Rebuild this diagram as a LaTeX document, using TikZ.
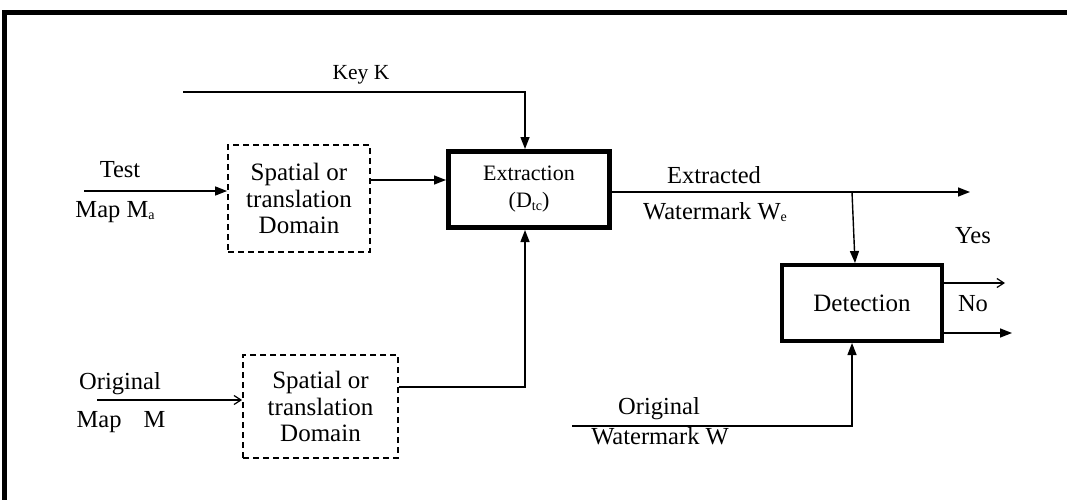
\documentclass[tikz,border=0pt]{standalone}
\usepackage{fontspec}
\setmainfont{Liberation Serif}
\usetikzlibrary{arrows.meta}

% small subscript used in the labels
\newcommand{\lowsub}[1]{\raisebox{-0.1em}{\fontsize{14}{15}\selectfont #1}}

\tikzset{
  lbl/.style={inner sep=0pt, font=\fontsize{24.5}{28}\selectfont},
  dombox/.style={draw, dash pattern=on 6pt off 4pt, line width=1.8pt, align=center,
    inner sep=0pt, font=\fontsize{25}{26.5}\selectfont},
  procbox/.style={draw, line width=5pt, align=center, inner sep=0pt},
  link/.style={line width=1.4pt},
  arr/.style={link, -{Triangle[length=12pt,width=9pt]}},
  thinarr/.style={link, -{Straight Barb[length=7pt,width=9pt,line width=1.2pt]}},
}

\begin{document}
\begin{tikzpicture}[x=1pt,y=-1pt]
\useasboundingbox (0,0) rectangle (1067,500);

% page frame (top and left rules)
\draw[line width=4.5pt, line join=miter] (4.7,500) -- (4.7,12.5) -- (1067,12.5);

% blocks
\node[dombox, minimum width=142pt, minimum height=107pt] (dom1) at (299,198.5)
  {Spatial or\\translation\\Domain};
\node[dombox, minimum width=155pt, minimum height=103pt] (dom2) at (320.5,406.5)
  {Spatial or\\translation\\Domain};
\node[procbox, minimum width=161pt, minimum height=76pt,
  font=\fontsize{22}{27}\selectfont] (ext) at (529,189.5)
  {Extraction\\(D\lowsub{tc})};
\node[procbox, line width=4pt, minimum width=160pt, minimum height=76pt,
  font=\fontsize{25}{27}\selectfont] (det) at (862,303) {Detection};

% labels
\node[lbl, font=\fontsize{21.5}{24}\selectfont] (keyl) at (361,75) {Key K};
\node[lbl] (testl) at (120,170) {Test};
\node[lbl] (mapal) at (115,212) {Map M\lowsub{a}};
\node[lbl] (origl) at (120,384) {Original};
\node[lbl] (mapl) at (121,422) {Map\hspace{0.9em}M};
\node[lbl] (extrl) at (714,175) {Extracted};
\node[lbl] (wmel) at (715,212) {Watermark W\lowsub{e}};
\node[lbl] (yesl) at (973,236) {Yes};
\node[lbl] (nol) at (973,304) {No};
\node[lbl] (origwl) at (659,409) {Original};
\node[lbl] (wml) at (660,436) {Watermark W};

% free ends and bends of the connectors
\coordinate (k0) at (183,92);
\coordinate (t0) at (84,191);
\coordinate (a1) at (370,180);
\coordinate (o0) at (97,400);
\coordinate (b1) at (398,387);
\coordinate (e1) at (970,192);
\coordinate (br) at (852,192);
\coordinate (y1) at (1005,283);
\coordinate (n1) at (1012,333);
\coordinate (w0) at (572,426);

% connectors
\draw[arr] (k0) -| ([xshift=-4pt]ext.north);
\draw[arr] (t0) -- (t0 -| dom1.west);
\draw[arr] (dom1.east |- a1) -- (ext.west |- a1);
\draw[thinarr] (o0) -- (o0 -| dom2.west);
\draw[arr] (dom2.east |- b1) -| ([xshift=-4pt]ext.south);
\draw[arr] (ext.east |- e1) -- (e1);
\draw[arr] (br) -- ([xshift=-7pt]det.north);
\draw[thinarr] (det.east |- y1) -- (y1);
\draw[arr] (det.east |- n1) -- (n1);
\draw[arr] (w0) -| ([xshift=-10pt]det.south);
\end{tikzpicture}
\end{document}
